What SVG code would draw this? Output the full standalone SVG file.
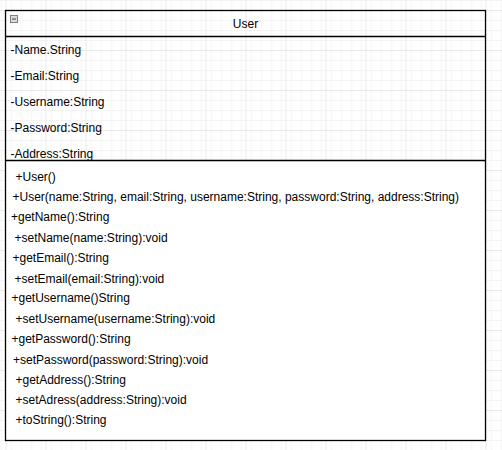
<svg xmlns="http://www.w3.org/2000/svg" width="502" height="450" viewBox="0 0 502 450">
  <defs>
    <!-- canvas grid: fine lines every 10px, stronger lines every 40px -->
    <pattern id="gridMinor" x="5.5" y="0" width="10" height="10" patternUnits="userSpaceOnUse">
      <path d="M0 0.5H10M0.5 0V10" fill="none" stroke="#f3f3f3" stroke-width="1"/>
    </pattern>
    <pattern id="gridMajor" x="5.5" y="10" width="40" height="40" patternUnits="userSpaceOnUse">
      <rect width="40" height="40" fill="url(#gridMinor)"/>
      <path d="M0 0.5H40M0.5 0V40" fill="none" stroke="#e8e8e8" stroke-width="1"/>
    </pattern>
  </defs>
  <style>
    .txt { font-family: "Liberation Sans", Arial, sans-serif; font-size: 12px; fill: #000; }
    .title { text-anchor: middle; }
    .edge { fill: none; stroke: #000; stroke-width: 1.3; }
  </style>

  <rect width="502" height="450" fill="#fff"/>
  <rect width="502" height="450" fill="url(#gridMajor)"/>

  <g id="User">
    <!-- operations compartment has an opaque background -->
    <rect x="5.5" y="160.5" width="480" height="280" fill="#fff"/>
    <rect class="edge" x="5.5" y="10.5" width="480" height="430"/>
    <line class="edge" x1="5.5" y1="36.5" x2="485.5" y2="36.5"/>
    <line class="edge" x1="5.5" y1="160.5" x2="485.5" y2="160.5"/>

    <!-- collapse toggle -->
    <g id="User-toggle">
      <rect x="10.5" y="15.5" width="7" height="7" fill="#dcdcdc" stroke="#808080" stroke-width="1"/>
      <line x1="12" y1="19" x2="16" y2="19" stroke="#404040" stroke-width="1"/>
    </g>

    <text class="txt title" x="245.5" y="28">User</text>

    <!-- attributes -->
    <text class="txt" x="10.5" y="54">-Name.String</text>
    <text class="txt" x="10.5" y="80">-Email:String</text>
    <text class="txt" x="10.5" y="106">-Username:String</text>
    <text class="txt" x="10.5" y="132">-Password:String</text>
    <text class="txt" x="10.5" y="158">-Address:String</text>

    <!-- operations -->
    <text class="txt" x="15.5" y="181">+User()</text>
    <text class="txt" x="12.5" y="201">+User(name:String, email:String, username:String, password:String, address:String)</text>
    <text class="txt" x="11" y="221">+getName():String</text>
    <text class="txt" x="14.5" y="242">+setName(name:String):void</text>
    <text class="txt" x="12.5" y="262">+getEmail():String</text>
    <text class="txt" x="14.5" y="283">+setEmail(email:String):void</text>
    <text class="txt" x="11.5" y="302">+getUsername()String</text>
    <text class="txt" x="15.5" y="323">+setUsername(username:String):void</text>
    <text class="txt" x="11.5" y="343">+getPassword():String</text>
    <text class="txt" x="13" y="364">+setPassword(password:String):void</text>
    <text class="txt" x="15.5" y="384">+getAddress():String</text>
    <text class="txt" x="15.5" y="404">+setAdress(address:String):void</text>
    <text class="txt" x="15.5" y="424">+toString():String</text>
  </g>
</svg>
